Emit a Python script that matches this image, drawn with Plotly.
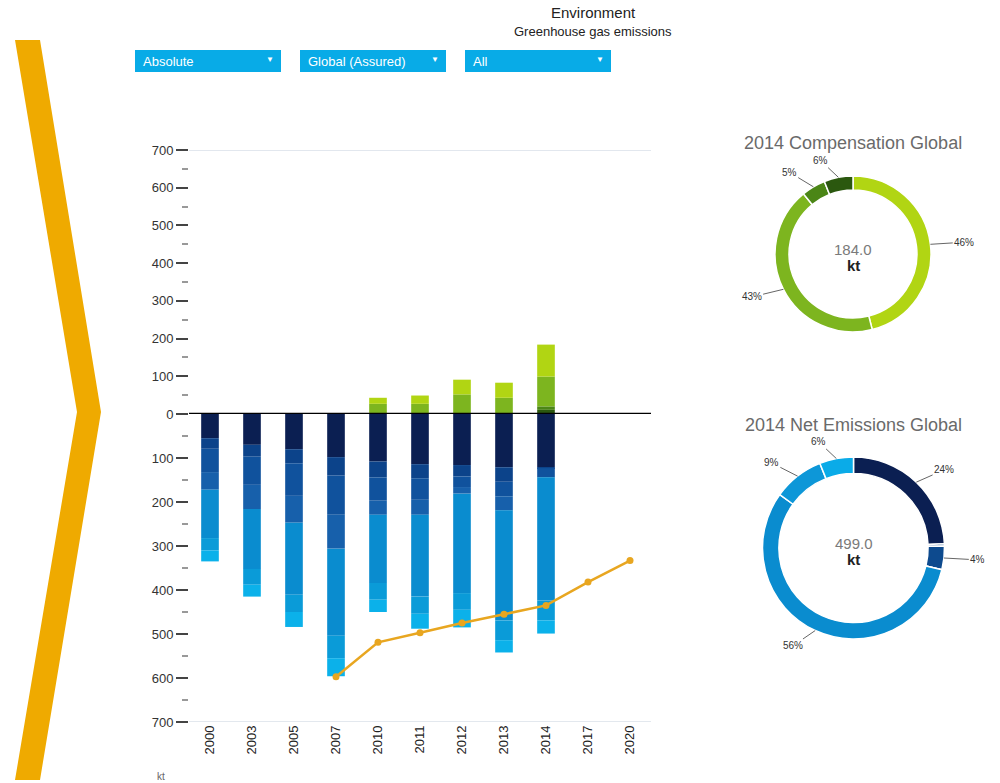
import math
import plotly.graph_objects as go

W, H = 1000, 783
FONT = "Liberation Sans, Arial, sans-serif"

# ---------------- data ----------------
years = ["2000", "2003", "2005", "2007", "2010", "2011", "2012", "2013", "2014", "2017", "2020"]
em_years = ["2000", "2003", "2005", "2007", "2010", "2011", "2012", "2013", "2014"]
em_s1 = [55, 70, 80, 98, 108, 114, 116, 121, 121]
em_s2 = [24, 27, 32, 42, 36, 32, 26, 33, 2]
em_s3 = [53, 64, 74, 89, 53, 49, 24, 33, 21]
em_s4 = [40, 55, 61, 77, 32, 34, 15, 32, 0]
em_s5 = [110, 136, 164, 198, 155, 186, 226, 250, 280]
em_s6 = [28, 36, 39, 51, 38, 39, 38, 45, 45]
em_s7 = [25, 27, 34, 41, 28, 34, 40, 28, 30]
em_names = ["Source 1", "Source 2", "Source 3", "Source 4", "Source 5", "Source 6", "Source 7"]
em_colors = ["#0b1f52", "#0c438a", "#10529d", "#1760ab", "#0a8ccf", "#0a9bd8", "#0bb1ea"]

comp_years = ["2010", "2011", "2012", "2013", "2014"]
comp_c1 = [0, 0, 0, 0, 11.0]
comp_c2 = [0, 0, 0, 0, 9.2]
comp_c3 = [27, 27, 52, 43, 79.1]
comp_c4 = [16, 22, 39, 40, 84.7]
comp_names = ["Compensation 1", "Compensation 2", "Compensation 3", "Compensation 4"]
comp_colors = ["#2b580f", "#4b8616", "#7db51f", "#b1d513"]

target_years = ["2007", "2010", "2011", "2012", "2013", "2014", "2017", "2020"]
target_vals = [597, 519, 497, 475, 455, 435, 382, 333]

menu_labels = ["Absolute", "Global (Assured)", "All"]
title_main = "Environment"
title_sub = "Greenhouse gas emissions"
unit = "kt"
focus_year = "2014"

y_major = [0, 100, 200, 300, 400, 500, 600, 700]
y_minor = [50, 150, 250, 350, 450, 550, 650]


def px(x):
    return x / W


def py(y):
    return 1 - y / H


fig = go.Figure()

# emissions (bottom panel, stacked downward)
em_series = [em_s1, em_s2, em_s3, em_s4, em_s5, em_s6, em_s7]
for name, vals, col in zip(em_names, em_series, em_colors):
    fig.add_trace(go.Bar(x=em_years, y=vals, name=name, marker=dict(color=col, line=dict(width=0)),
                         xaxis="x", yaxis="y2", showlegend=False))

# compensation (top panel)
comp_series = [comp_c1, comp_c2, comp_c3, comp_c4]
for name, vals, col in zip(comp_names, comp_series, comp_colors):
    fig.add_trace(go.Bar(x=comp_years, y=vals, name=name, marker=dict(color=col, line=dict(width=0)),
                         xaxis="x", yaxis="y", showlegend=False))

# target line
fig.add_trace(go.Scatter(x=target_years, y=target_vals, mode="lines+markers", name="Target",
                         line=dict(color="#e8a620", width=2.5), marker=dict(color="#e8a620", size=7),
                         xaxis="x", yaxis="y2", showlegend=False))

# ---------------- donuts ----------------
fi = em_years.index(focus_year)
ci = comp_years.index(focus_year)
comp_pie_vals = [comp_c4[ci], comp_c3[ci], comp_c2[ci], comp_c1[ci]]
comp_pie_cols = [comp_colors[3], comp_colors[2], comp_colors[1], comp_colors[0]]
comp_pie_names = [comp_names[3], comp_names[2], comp_names[1], comp_names[0]]
net_pie_vals = [s[fi] for s in em_series]
net_pie_cols = ["#0b1f52", "#1a4c8c", "#0d4a8e", "#1760ab", "#0a8ccf", "#0d97d8", "#0aabe8"]

donuts = [
    dict(vals=comp_pie_vals, cols=comp_pie_cols, names=comp_pie_names, cx=853, cy=254, r=78,
         title=f"{focus_year} Compensation Global", ty=143),
    dict(vals=net_pie_vals, cols=net_pie_cols, names=em_names, cx=853.5, cy=548, r=91,
         title=f"{focus_year} Net Emissions Global", ty=425),
]

annotations = []
for d in donuts:
    cx, cy, r = d["cx"], d["cy"], d["r"]
    fig.add_trace(go.Pie(values=d["vals"], labels=d["names"], marker=dict(colors=d["cols"], line=dict(color="white", width=1.5)),
                         hole=0.82, sort=False, direction="clockwise", rotation=0, textinfo="none",
                         domain=dict(x=[px(cx - r), px(cx + r)], y=[py(cy + r), py(cy - r)]), showlegend=False))
    total = sum(d["vals"])
    annotations.append(dict(text=d["title"], x=px(cx), y=py(d["ty"]), xref="paper", yref="paper", showarrow=False,
                            font=dict(size=18, color="#6a6a6a", family=FONT), xanchor="center", yanchor="middle"))
    annotations.append(dict(text=f"{total:.1f}", x=px(cx), y=py(cy - 5), xref="paper", yref="paper", showarrow=False,
                            font=dict(size=15, color="#7a7a7a", family=FONT), xanchor="center", yanchor="middle"))
    annotations.append(dict(text=f"<b>{unit}</b>", x=px(cx), y=py(cy + 11), xref="paper", yref="paper", showarrow=False,
                            font=dict(size=15, color="#222", family=FONT), xanchor="center", yanchor="middle"))
    cum = 0.0
    for v in d["vals"]:
        frac = v / total
        if frac >= 0.01:
            th = 2 * math.pi * (cum + frac / 2)
            sx, sy = math.sin(th), -math.cos(th)
            ex, ey = cx + r * sx, cy + r * sy
            ox = sx * 20 + (14 if sx >= 0 else -14)
            oy = sy * 17
            annotations.append(dict(text=f"{round(frac * 100)}%", x=px(ex), y=py(ey), xref="paper", yref="paper",
                                    showarrow=True, arrowhead=0, arrowwidth=1, arrowcolor="#666", ax=ox, ay=oy,
                                    standoff=0, font=dict(size=10, color="#333", family=FONT)))
        cum += frac

# titles
annotations.append(dict(text=title_main, x=px(593), y=py(13), xref="paper", yref="paper", showarrow=False,
                        font=dict(size=15, color="#222", family=FONT), xanchor="center", yanchor="middle"))
annotations.append(dict(text=title_sub, x=px(593), y=py(32), xref="paper", yref="paper", showarrow=False,
                        font=dict(size=13, color="#222", family=FONT), xanchor="center", yanchor="middle"))
annotations.append(dict(text=unit, x=px(155), y=py(776), xref="paper", yref="paper", showarrow=False,
                        font=dict(size=10, color="#666", family=FONT), xanchor="left", yanchor="middle"))

shapes = []
# dropdown boxes
box_x = [135, 300, 465]
for bx, lab in zip(box_x, menu_labels):
    shapes.append(dict(type="rect", xref="paper", yref="paper", x0=px(bx), x1=px(bx + 146), y0=py(72), y1=py(50),
                       fillcolor="#08abe7", line=dict(width=0), layer="below"))
    annotations.append(dict(text=lab, x=px(bx + 6), y=py(61), xref="paper", yref="paper", showarrow=False,
                            font=dict(size=13, color="white", family=FONT), xanchor="left", yanchor="middle"))
    annotations.append(dict(text="▼", x=px(bx + 135), y=py(60), xref="paper", yref="paper", showarrow=False,
                            font=dict(size=8, color="white", family=FONT), xanchor="center", yanchor="middle"))

# chevron
chev = [(15, 40), (40, 40), (101, 412), (40, 780), (15, 780), (77, 412)]
path = "M " + " L ".join(f"{px(a):.4f},{py(b):.4f}" for a, b in chev) + " Z"
shapes.append(dict(type="path", path=path, xref="paper", yref="paper", fillcolor="#efaa00", line=dict(width=0)))

# axis lines
shapes.append(dict(type="line", xref="x domain", yref="y", x0=0, x1=1, y0=700, y1=700,
                   line=dict(color="#c6d0dd", width=1)))
shapes.append(dict(type="line", xref="x domain", yref="y2", x0=0, x1=1, y0=700, y1=700,
                   line=dict(color="#c6d0dd", width=1)))
shapes.append(dict(type="line", xref="x domain", yref="y", x0=0, x1=1, y0=0, y1=0,
                   line=dict(color="#000", width=2.5), layer="above"))

yax_common = dict(showgrid=False, zeroline=False, showline=False, ticks="outside", ticklen=12, tickwidth=1.5,
                  tickcolor="#444", tickfont=dict(size=13, color="#333", family=FONT), automargin=False,
                  anchor="x", fixedrange=True)

fig.update_layout(
    width=W, height=H,
    margin=dict(l=0, r=0, t=0, b=0),
    paper_bgcolor="white", plot_bgcolor="white",
    barmode="relative", bargap=0.58,
    font=dict(family=FONT),
    xaxis=dict(domain=[px(189), px(651)], anchor="y2", type="category", categoryorder="array",
               categoryarray=years, range=[-0.5, len(years) - 0.5], tickangle=-90, ticks="",
               showgrid=False, zeroline=False, showline=False, automargin=False,
               tickfont=dict(size=13, color="#222", family=FONT), fixedrange=True),
    yaxis=dict(domain=[py(414), py(150)], range=[0, 700], tickmode="array", tickvals=y_major,
               minor=dict(tickmode="array", tickvals=y_minor, ticks="outside", ticklen=6, tickcolor="#999",
                          showgrid=False),
               **yax_common),
    yaxis2=dict(domain=[py(722), py(414)], range=[700, 0], tickmode="array", tickvals=y_major[1:],
                minor=dict(tickmode="array", tickvals=y_minor, ticks="outside", ticklen=6, tickcolor="#999",
                           showgrid=False),
                **yax_common),
    shapes=shapes,
    annotations=annotations,
)

fig.write_html("out.html")
